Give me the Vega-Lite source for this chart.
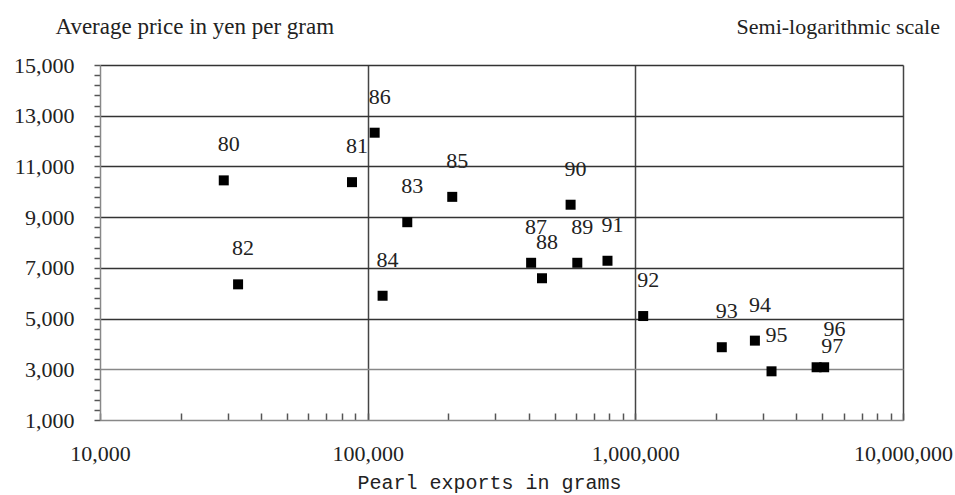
{
  "$schema": "https://vega.github.io/schema/vega-lite/v6.json",
  "width": 803,
  "height": 355,
  "autosize": {"type": "none"},
  "padding": {"left": 100, "top": 65, "right": 52, "bottom": 75},
  "background": "white",
  "title": {
    "text": "Semi-logarithmic scale",
    "anchor": "end",
    "frame": "group",
    "font": "Liberation Serif",
    "fontSize": 22,
    "fontWeight": "normal",
    "color": "#222",
    "baseline": "alphabetic",
    "dx": 37,
    "offset": -41
  },
  "config": {
    "view": {"stroke": null},
    "axis": {"labelFont": "Liberation Serif", "labelColor": "#222", "titleColor": "#222"}
  },
  "data": {
    "values": [
      {"year": "80", "exports": 29000, "price": 10450},
      {"year": "81", "exports": 87400, "price": 10380},
      {"year": "82", "exports": 32800, "price": 6350},
      {"year": "83", "exports": 140600, "price": 8800},
      {"year": "84", "exports": 113700, "price": 5900},
      {"year": "85", "exports": 207000, "price": 9800},
      {"year": "86", "exports": 106200, "price": 12330},
      {"year": "87", "exports": 408000, "price": 7200},
      {"year": "88", "exports": 448000, "price": 6590},
      {"year": "89", "exports": 607000, "price": 7200},
      {"year": "90", "exports": 573000, "price": 9490},
      {"year": "91", "exports": 787000, "price": 7280},
      {"year": "92", "exports": 1070000, "price": 5100},
      {"year": "93", "exports": 2104000, "price": 3870},
      {"year": "94", "exports": 2797000, "price": 4130},
      {"year": "95", "exports": 3227000, "price": 2920},
      {"year": "96", "exports": 4756000, "price": 3080},
      {"year": "97", "exports": 5075000, "price": 3080}
    ]
  },
  "encoding": {
    "x": {
      "field": "exports",
      "type": "quantitative",
      "scale": {"type": "log", "domain": [10000, 10000000], "nice": false},
      "axis": {
        "values": [10000, 20000, 30000, 40000, 50000, 60000, 70000, 80000, 90000, 100000, 200000, 300000, 400000, 500000, 600000, 700000, 800000, 900000, 1000000, 2000000, 3000000, 4000000, 5000000, 6000000, 7000000, 8000000, 9000000, 10000000],
        "labelExpr": "indexof([10000,100000,1000000,10000000], datum.value) >= 0 ? format(datum.value, ',') : ''",
        "labelFontSize": 22,
        "labelPadding": 30,
        "labelFlush": false,
        "labelOverlap": false,
        "tickSize": -7,
        "tickColor": "#555",
        "tickWidth": 1.5,
        "domainColor": "#888",
        "domainWidth": 1.5,
        "grid": true,
        "gridColor": "#444",
        "gridWidth": 1.5,
        "gridOpacity": {"condition": {"test": "indexof([100000,1000000,10000000], datum.value) >= 0", "value": 1}, "value": 0},
        "title": "Pearl exports in grams",
        "titleFont": "Liberation Mono",
        "titleFontSize": 20,
        "titleFontWeight": "normal",
        "titleX": 389,
        "titleY": 62,
        "titleBaseline": "middle"
      }
    },
    "y": {
      "field": "price",
      "type": "quantitative",
      "scale": {"domain": [1000, 15000], "nice": false, "zero": false},
      "axis": {
        "values": [1000, 1400, 1800, 2200, 2600, 3000, 3400, 3800, 4200, 4600, 5000, 5400, 5800, 6200, 6600, 7000, 7400, 7800, 8200, 8600, 9000, 9400, 9800, 10200, 10600, 11000, 11400, 11800, 12200, 12600, 13000, 13400, 13800, 14200, 14600, 15000],
        "labelExpr": "datum.value % 2000 == 1000 ? format(datum.value, ',') : ''",
        "labelFontSize": 22,
        "labelPadding": 20,
        "labelFlush": false,
        "labelOverlap": false,
        "labelBaseline": "middle",
        "tickSize": 6,
        "tickColor": "#555",
        "tickWidth": 1.5,
        "domainColor": "#888",
        "domainWidth": 1.5,
        "grid": true,
        "gridColor": {"condition": {"test": "datum.value == 3000", "value": "#888"}, "value": "#333"},
        "gridWidth": 1.5,
        "gridOpacity": {"condition": {"test": "datum.value % 2000 == 1000 && datum.value > 1000", "value": 1}, "value": 0},
        "title": "Average price in yen per gram",
        "titleFont": "Liberation Serif",
        "titleFontSize": 23,
        "titleFontWeight": "normal",
        "titleAngle": 0,
        "titleAlign": "left",
        "titleBaseline": "alphabetic",
        "titleX": -45,
        "titleY": -32
      }
    }
  },
  "layer": [
    {
      "mark": {"type": "point", "shape": "square", "filled": true, "size": 100, "color": "#000", "opacity": 1}
    },
    {
      "transform": [{"filter": "datum.year != '96' && datum.year != '97'"}],
      "mark": {"type": "text", "font": "Liberation Serif", "fontSize": 22, "color": "#222", "dx": 5, "dy": -36, "baseline": "middle", "align": "center"},
      "encoding": {"text": {"field": "year"}}
    },
    {
      "transform": [{"filter": "datum.year == '96'"}],
      "mark": {"type": "text", "font": "Liberation Serif", "fontSize": 22, "color": "#222", "dx": 18, "dy": -38, "baseline": "middle", "align": "center"},
      "encoding": {"text": {"field": "year"}}
    },
    {
      "transform": [{"filter": "datum.year == '97'"}],
      "mark": {"type": "text", "font": "Liberation Serif", "fontSize": 22, "color": "#222", "dx": 8, "dy": -21, "baseline": "middle", "align": "center"},
      "encoding": {"text": {"field": "year"}}
    }
  ]
}
